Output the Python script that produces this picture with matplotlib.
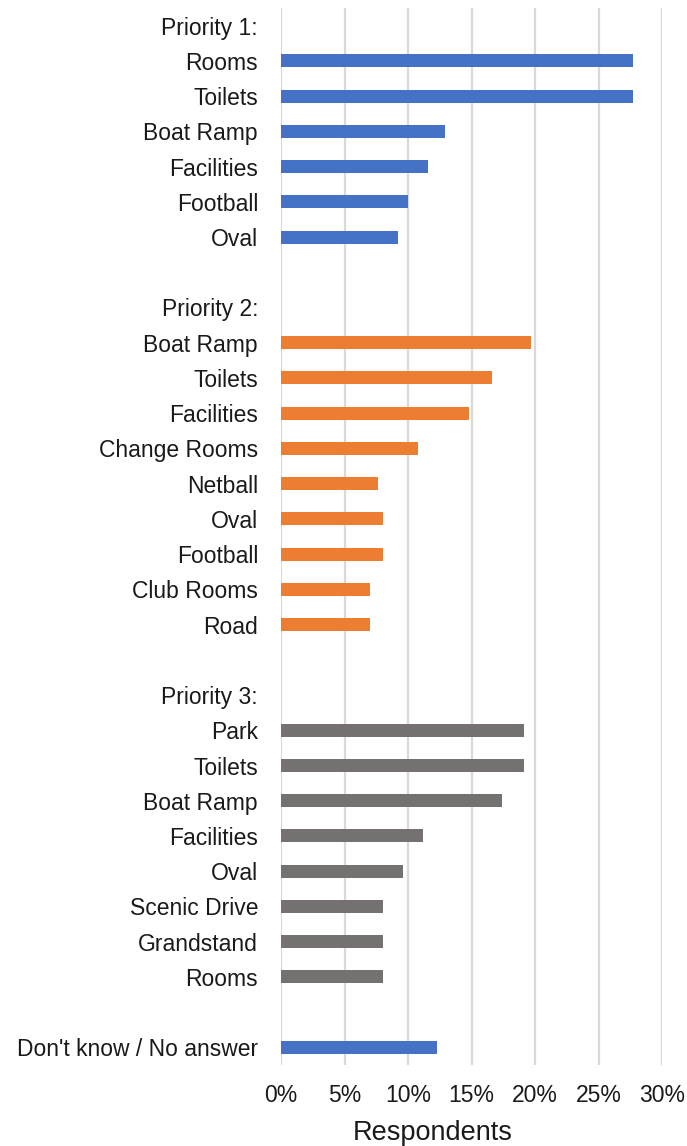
import matplotlib
matplotlib.use("Agg")
import matplotlib.pyplot as plt
from matplotlib.ticker import FuncFormatter
import numpy as np

plt.rcParams['font.family'] = ['Liberation Sans', 'DejaVu Sans']

BLUE = "#4472C4"
ORANGE = "#ED7D31"
GRAY = "#767171"

p1_labels = ["Rooms", "Toilets", "Boat Ramp", "Facilities", "Football", "Oval"]
p1_values = [27.7, 27.7, 12.9, 11.6, 10.0, 9.2]

p2_labels = ["Boat Ramp", "Toilets", "Facilities", "Change Rooms", "Netball",
             "Oval", "Football", "Club Rooms", "Road"]
p2_values = [19.7, 16.6, 14.8, 10.8, 7.6, 8.0, 8.0, 7.0, 7.0]

p3_labels = ["Park", "Toilets", "Boat Ramp", "Facilities", "Oval",
             "Scenic Drive", "Grandstand", "Rooms"]
p3_values = [19.1, 19.1, 17.4, 11.2, 9.6, 8.0, 8.0, 8.0]

dk_label = "Don't know / No answer"
dk_value = 12.3

xticks = [0, 5, 10, 15, 20, 25, 30]

# Build rows (headers and blank spacer rows carry no bar)
labels, values, colors = [], [], []
def add(lbl, val, col):
    labels.append(lbl); values.append(val); colors.append(col)

add("Priority 1:", np.nan, BLUE)
for l, v in zip(p1_labels, p1_values):
    add(l, v, BLUE)
add("", np.nan, BLUE)
add("Priority 2:", np.nan, ORANGE)
for l, v in zip(p2_labels, p2_values):
    add(l, v, ORANGE)
add("", np.nan, ORANGE)
add("Priority 3:", np.nan, GRAY)
for l, v in zip(p3_labels, p3_values):
    add(l, v, GRAY)
add("", np.nan, GRAY)
add(dk_label, dk_value, BLUE)

fig = plt.figure(figsize=(6.87, 11.46), dpi=100)
ax = fig.add_axes([0.409, 0.0707, 0.555, 0.9223])

y = np.arange(len(labels))
vals = np.nan_to_num(np.array(values, dtype=float), nan=0.0)
ax.barh(y, vals, height=0.37, color=colors, zorder=3)

ax.set_ylim(len(labels) - 0.5, -0.5)
ax.set_xlim(0, 30)
ax.set_yticks(y)
ax.set_yticklabels(labels, fontsize=16.5, color="#1a1a1a")
ax.set_xticks(xticks)
ax.xaxis.set_major_formatter(FuncFormatter(lambda v, p: f"{int(v)}%"))
ax.tick_params(axis='x', labelsize=16.5, length=0, pad=14, colors="#1a1a1a")
ax.tick_params(axis='y', length=0, pad=16.5)
ax.grid(axis='x', color="#D9D9D9", linewidth=1.6, zorder=0)
for s in ax.spines.values():
    s.set_visible(False)

ax.set_xlabel("Respondents", fontsize=19.5, color="#1a1a1a")
ax.xaxis.set_label_coords(0.399, -0.052)

fig.savefig("out.png", dpi=100, facecolor="white")
